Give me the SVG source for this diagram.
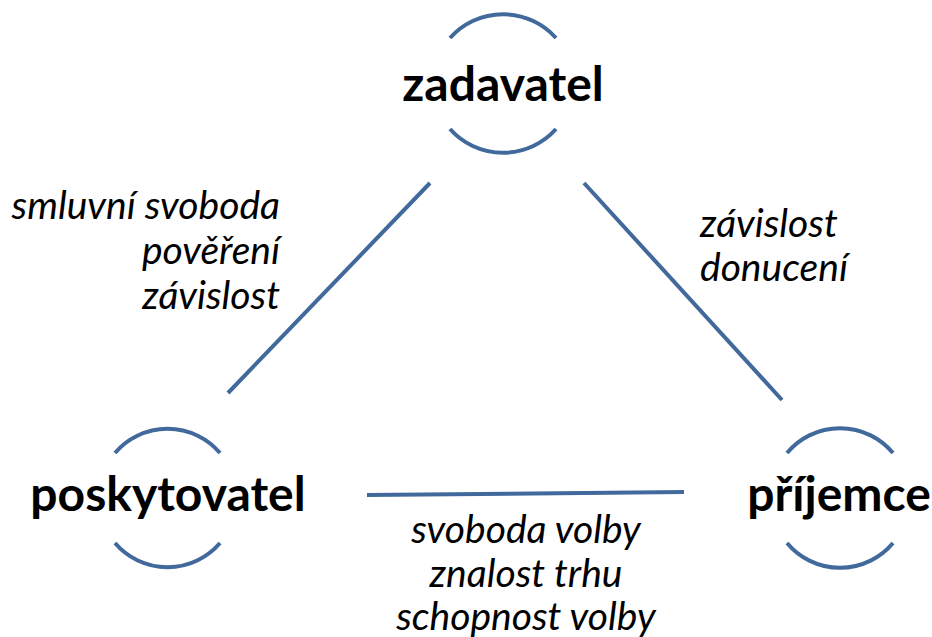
<svg xmlns="http://www.w3.org/2000/svg" width="932" height="637" viewBox="0 0 932 637">
  <style>
    .arc { fill: none; stroke: #41699C; stroke-width: 4; }
    .link { fill: none; stroke: #41699C; stroke-width: 4; }
    .name { font-family: Lato, "Open Sans", "Liberation Sans", sans-serif; font-weight: bold; font-size: 48px; fill: #000; text-anchor: middle; }
    .rel { font-family: Lato, "Open Sans", "Liberation Sans", sans-serif; font-style: italic; font-size: 39px; fill: #000; }
  </style>
  <rect width="932" height="637" fill="#fff"/>

  <!-- connectors between the three parties -->
  <g id="connectors">
    <line class="link" x1="430" y1="183" x2="228" y2="393"/>
    <line class="link" x1="584" y1="183" x2="782" y2="400"/>
    <line class="link" x1="367" y1="495" x2="684" y2="492"/>
  </g>

  <g id="zadavatel">
    <path class="arc" d="M450,38 A71,71 0 0 1 556,38"/>
    <path class="arc" d="M450,129 A71,71 0 0 0 556,129"/>
    <text class="name" x="503" y="101">zadavatel</text>
  </g>

  <g id="poskytovatel">
    <path class="arc" d="M115,453 A69,69 0 0 1 220,453"/>
    <path class="arc" d="M115,543 A69,69 0 0 0 220,543"/>
    <text class="name" x="168" y="511">poskytovatel</text>
  </g>

  <g id="prijemce">
    <path class="arc" d="M787,453 A69,69 0 0 1 893,453"/>
    <path class="arc" d="M787,543 A69,69 0 0 0 893,543"/>
    <text class="name" x="839" y="511">příjemce</text>
  </g>

  <!-- relation labels -->
  <g id="label-left" class="rel" text-anchor="end">
    <text x="280" y="219">smluvní svoboda</text>
    <text x="280" y="264">pověření</text>
    <text x="280" y="309">závislost</text>
  </g>
  <g id="label-right" class="rel">
    <text x="700" y="237">závislost</text>
    <text x="700" y="281">donucení</text>
  </g>
  <g id="label-bottom" class="rel" text-anchor="middle">
    <text x="526" y="543">svoboda volby</text>
    <text x="526" y="587">znalost trhu</text>
    <text x="526" y="630">schopnost volby</text>
  </g>
</svg>
